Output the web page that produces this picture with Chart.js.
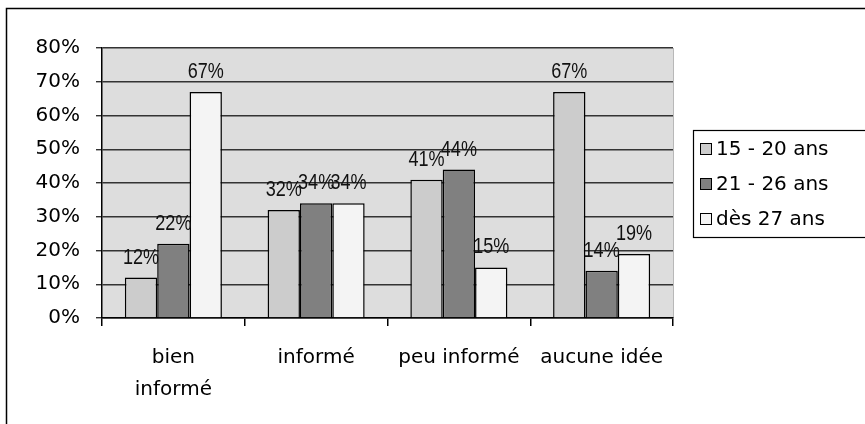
<!DOCTYPE html>
<html>
<head>
<meta charset="utf-8">
<script src="https://cdn.jsdelivr.net/npm/chart.js@4"></script>
<style>
  html, body { margin: 0; padding: 0; background: #fff; }
  #wrap { width: 865px; height: 424px; }
</style>
</head>
<body>
<div id="wrap"><canvas id="infoChart" width="865" height="424"></canvas></div>
<script>
// categories and series (percent)
var categories = [['bien', 'informé'], 'informé', 'peu informé', 'aucune idée'];
var ages15to20 = [12, 32, 41, 67];
var ages21to26 = [22, 34, 44, 14];
var ages27plus = [67, 34, 15, 19];
var seriesNames = ['15 - 20 ans', '21 - 26 ans', 'dès 27 ans'];
var yTicks = [0, 10, 20, 30, 40, 50, 60, 70, 80];

var axisFont = { family: 'DejaVu Sans', size: 20, lineHeight: 1.6 };

// background of plot area + outer frame
var frame = {
    id: 'frame',
    beforeDraw: function (chart) {
        var c = chart.ctx, a = chart.chartArea;
        c.save();
        c.fillStyle = '#fff';
        c.fillRect(0, 0, chart.width, chart.height);
        c.fillStyle = '#dddddd';
        c.fillRect(a.left, a.top, a.right - a.left, a.bottom - a.top);
        c.strokeStyle = '#000';
        c.lineWidth = 1.5;
        c.beginPath();
        c.moveTo(6.5, chart.height + 2);
        c.lineTo(6.5, 8.5);
        c.lineTo(chart.width + 2, 8.5);
        c.stroke();
        c.strokeStyle = '#b8b8b8';
        c.lineWidth = 1;
        c.beginPath();
        c.moveTo(a.right + 0.5, a.top);
        c.lineTo(a.right + 0.5, a.bottom);
        c.stroke();
        c.restore();
    }
};

// value labels above the bars, narrow style
var valueLabels = {
    id: 'valueLabels',
    afterDatasetsDraw: function (chart) {
        var c = chart.ctx;
        c.save();
        c.fillStyle = '#111';
        c.font = '21px "Liberation Sans", Arial, sans-serif';
        c.textAlign = 'center';
        c.textBaseline = 'alphabetic';
        chart.data.datasets.forEach(function (ds, i) {
            chart.getDatasetMeta(i).data.forEach(function (bar, j) {
                c.save();
                c.translate(bar.x, bar.y - 14);
                c.scale(0.86, 1.05);
                c.fillText(ds.data[j] + '%', 0, 0);
                c.restore();
            });
        });
        c.restore();
    }
};

// boxed legend on the right
var boxLegend = {
    id: 'boxLegend',
    afterDraw: function (chart) {
        var c = chart.ctx;
        var x = 693.5, y = 130.5;
        c.save();
        c.strokeStyle = '#000';
        c.lineWidth = 1.2;
        c.strokeRect(x, y, 200, 107);
        c.font = '20px "DejaVu Sans", sans-serif';
        c.textBaseline = 'middle';
        c.textAlign = 'left';
        chart.data.datasets.forEach(function (ds, i) {
            var cy = 149 + i * 35;
            c.fillStyle = ds.backgroundColor;
            c.fillRect(700, cy - 6, 12, 12);
            c.strokeStyle = '#000';
            c.lineWidth = 1;
            c.strokeRect(700.5, cy - 5.5, 11, 11);
            c.fillStyle = '#000';
            c.fillText(ds.label, 716, cy + 1);
        });
        c.restore();
    }
};

var ctx = document.getElementById('infoChart').getContext('2d');
var chart = new Chart(ctx, {
    type: 'bar',
    data: {
        labels: categories,
        datasets: [{
            label: seriesNames[0],
            data: ages15to20,
            backgroundColor: '#cccccc'
        }, {
            label: seriesNames[1],
            data: ages21to26,
            backgroundColor: '#808080'
        }, {
            label: seriesNames[2],
            data: ages27plus,
            backgroundColor: '#f4f4f4'
        }]
    },
    options: {
        responsive: false,
        animation: false,
        layout: { padding: { left: 0, top: 48, right: 192, bottom: 0 } },
        datasets: {
            bar: {
                borderColor: '#000',
                borderWidth: 1.5,
                categoryPercentage: 0.68,
                barPercentage: 1
            }
        },
        plugins: {
            legend: { display: false },
            tooltip: { enabled: false }
        },
        scales: {
            x: {
                offset: true,
                grid: {
                    offset: true,
                    drawOnChartArea: false,
                    drawTicks: true,
                    tickLength: 8,
                    color: '#000',
                    lineWidth: 1.5
                },
                border: { color: '#000', width: 1.5 },
                ticks: { color: '#000', font: axisFont, padding: 16, maxRotation: 0 },
                afterFit: function (scale) { scale.height = 106; }
            },
            y: {
                min: 0,
                max: 80,
                afterBuildTicks: function (scale) {
                    scale.ticks = yTicks.map(function (v) { return { value: v }; });
                },
                grid: {
                    color: '#333',
                    lineWidth: 1.4,
                    drawTicks: true,
                    tickLength: 6
                },
                border: { color: '#000', width: 1.5 },
                ticks: {
                    color: '#000',
                    font: { family: 'DejaVu Sans', size: 20 },
                    padding: 16,
                    callback: function (v) { return v + '%'; }
                },
                afterFit: function (scale) { scale.width = 102; }
            }
        }
    },
    plugins: [frame, valueLabels, boxLegend]
});
</script>
</body>
</html>
